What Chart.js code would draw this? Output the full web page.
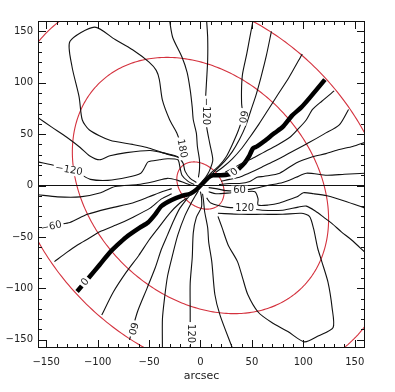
<!DOCTYPE html>
<html>
<head>
<meta charset="utf-8">
<script src="https://cdn.jsdelivr.net/npm/chart.js@4.4.1/dist/chart.umd.min.js"></script>
<style>
  html, body { margin: 0; padding: 0; background: #fff; }
  #c { display: block; }
</style>
</head>
<body>
<canvas id="c" width="395" height="392"></canvas>
<script>
// axis ticks (arcsec)
var xTicks = [-150, -100, -50, 0, 50, 100, 150]
var yTicks = [-150, -100, -50, 0, 50, 100, 150]

// contour lines, [x, y] in arcsec
var zeroLine = [[-120,-103],[-108,-89],[-98,-77],[-88,-65],[-81,-58],[-72,-50],[-59,-41],[-51,-36],[-44,-28],[-38,-20],[-28,-14],[-18,-10],[-10,-8],[-4,-4],[2,2],[8,8],[12,10],[20,10],[28,11],[33,13],[37,16],[43,22],[47,28],[51,36],[55,38],[62,43],[72,51],[80,57],[89,68],[98,76],[106,85],[121,103]]
var lobeA = [[-20,27],[-37,32],[-52,37],[-66,40],[-88,44],[-108,54],[-115,64],[-118,86],[-125,116],[-127,140],[-103,154],[-83,142],[-66,132],[-50,120],[-43,112],[-40,103],[-37,83],[-30,64],[-23,51],[-18,37],[-15,28]]
var lineB = [[-30,160],[-27,144],[-18,125],[-13,110],[-10,93],[-8,76],[-7,64],[-4,51],[-3,38],[-1,25],[-1,15],[-2,8]]
var minus120Top = [[6,160],[7,144],[7,122],[6,103],[5,85],[5,72],[6,57],[9,41],[12,25],[9,15],[5,8],[2,4]]
var sixtyTop = [[51,160],[48,144],[45,128],[41,109],[40,96],[40,80],[41,67],[37,54],[31,40],[25,28],[18,19],[11,13],[6,7]]
var lineTH = [[69,150],[64,126],[59,106],[54,88],[49,73],[44,58],[38,45],[31,33],[23,23],[16,16],[10,10]]
var lineTG = [[99,128],[86,105],[75,88],[66,74],[57,60],[48,47],[40,36],[31,26],[22,18],[15,13]]
var lineC2 = [[130,92],[118,82],[109,74],[103,64],[95,55],[87,47],[74,39],[61,32],[50,26],[41,22],[32,17],[24,13]]
var lineD2 = [[144,74],[135,59],[120,50],[106,42],[93,35],[80,28],[68,22],[58,17],[47,12],[38,8],[28,6],[20,4]]
var lineE2 = [[160,42],[148,38],[135,35],[122,31],[109,28],[93,22],[77,12],[62,9],[55,8],[48,4],[38,2],[28,2],[18,1]]
var sixtyRight = [[160,12],[140,11],[123,10],[103,12],[93,8],[80,3],[65,0],[52,-3],[38,-5],[25,-5],[15,-3],[8,-2]]
var bumpRight = [[8,-6],[15,-8],[30,-7],[44,-6],[53,-6],[56,-13],[56,-19],[66,-19],[77,-17],[88,-13],[94,-11],[100,-7],[110,-8],[123,-10],[140,-15],[160,-22]]
var oneTwentyRight = [[6,-12],[10,-17],[25,-21],[43,-22],[60,-24],[80,-24],[95,-21],[103,-20],[112,-25],[120,-31],[128,-37],[137,-45],[147,-53],[160,-65]]
var lobeB = [[17,-27],[40,-28],[60,-28],[80,-28],[98,-27],[106,-30],[110,-42],[114,-61],[118,-74],[124,-94],[128,-119],[129,-138],[115,-146],[101,-152],[85,-142],[69,-133],[56,-123],[46,-106],[41,-90],[36,-74],[27,-58],[21,-41],[17,-30]]
var lineK = [[31,-158],[19,-126],[14,-106],[11,-74],[8,-55],[7,-41],[4,-25],[3,-15],[2,-8]]
var oneTwentyBot = [[-10,-158],[-10,-144],[-10,-121],[-10,-95],[-8,-70],[-7,-46],[-4,-31],[1,-21],[1,-12],[0,-6]]
var lineI = [[-37,-158],[-37,-130],[-35,-110],[-32,-88],[-27,-67],[-22,-48],[-15,-29],[-9,-17],[-5,-10],[-2,-5]]
var sixtyBot = [[-69,-150],[-66,-139],[-61,-122],[-52,-100],[-44,-80],[-38,-62],[-32,-48],[-26,-34],[-20,-22],[-14,-14],[-9,-8]]
var lineG = [[-96,-126],[-85,-104],[-72,-84],[-60,-68],[-50,-53],[-40,-40],[-30,-27],[-20,-17],[-13,-12]]
var lineF = [[-142,-74],[-130,-65],[-120,-58],[-108,-51],[-98,-45],[-81,-38],[-66,-31],[-49,-22],[-38,-13],[-28,-8]]
var minus60Left = [[-158,-43],[-139,-38],[-127,-36],[-110,-28],[-88,-22],[-66,-17],[-50,-11],[-40,-7],[-28,-3]]
var lineDL = [[-158,-9],[-139,-11],[-117,-11],[-97,-7],[-83,-1],[-61,1],[-45,4],[-32,7],[-22,5],[-14,2],[-8,0]]
var minus120Left = [[-158,23],[-140,19],[-127,14],[-117,11],[-107,6],[-90,5],[-71,8],[-58,12],[-54,18],[-51,23],[-40,25],[-32,26],[-22,25],[-20,18],[-18,10],[-12,4],[-6,1]]
var lineCL = [[-158,66],[-145,57],[-130,47],[-117,37],[-108,29],[-98,25],[-88,29],[-72,32],[-49,34],[-33,31],[-22,28],[-17,22],[-15,14],[-10,7],[-4,3]]
var axisLine = [[-158,0],[160,0]]

var thinLines = [lobeA, lineB, minus120Top, sixtyTop, lineTH, lineTG, lineC2, lineD2, lineE2, sixtyRight, bumpRight, oneTwentyRight, lobeB, lineK, oneTwentyBot, lineI, sixtyBot, lineG, lineF, minus60Left, lineDL, minus120Left, lineCL, axisLine]

// contour level labels: text, x, y, angle (deg)
var labelText = ['180', '\u2212120', '60', '0', '60', '120', '\u2212120', '\u221260', '0', '60', '120']
var labelX = [-18, 5, 41, 33, 38, 43, -128, -145, -112, -66, -10]
var labelY = [36, 72, 67, 13, -5, -22, 15, -40, -94, -139, -144]
var labelAngle = [78, 90, 100, -40, 0, 0, 10, -12, -50, 105, 90]

// red rings (semi axes along NW-SE and NE-SW, arcsec)
var ringA = [26, 140, 211]
var ringB = [19.5, 107, 160]

function pts(arr){
    return arr.map(function(p){ return {x:p[0], y:p[1]} })
}

var datasets = []
thinLines.forEach(function(l){
    datasets.push({data:pts(l), showLine:true, pointRadius:0, borderColor:'#111', borderWidth:1.1, tension:0.25, fill:false})
})
datasets.push({data:pts(zeroLine), showLine:true, pointRadius:0, borderColor:'#000', borderWidth:4.5, tension:0.2, fill:false})

function fmt(v){
    return v < 0 ? '\u2212' + (-v) : '' + v
}

var decor = {
    id:'decor',
    beforeDraw:function(chart){
        var ctx = chart.ctx
        ctx.save()
        ctx.fillStyle = '#fff'
        ctx.fillRect(0, 0, chart.width, chart.height)
        ctx.restore()
    },
    beforeDatasetsDraw:function(chart){
        var ctx = chart.ctx, xs = chart.scales.x, ys = chart.scales.y, a = chart.chartArea
        ctx.save()
        ctx.beginPath()
        ctx.rect(a.left, a.top, a.right - a.left, a.bottom - a.top)
        ctx.clip()
        ctx.strokeStyle = 'rgb(212,50,62)'
        ctx.lineWidth = 1.1
        var r = Math.SQRT1_2
        for (var k = 0; k < ringA.length; k++){
            ctx.beginPath()
            for (var i = 0; i <= 360; i++){
                var t = i / 360 * Math.PI * 2
                var u = ringA[k] * Math.cos(t), w = ringB[k] * Math.sin(t)
                var px = xs.getPixelForValue((u + w) * r)
                var py = ys.getPixelForValue((w - u) * r)
                if (i == 0) ctx.moveTo(px, py); else ctx.lineTo(px, py)
            }
            ctx.stroke()
        }
        ctx.restore()
    },
    afterDatasetsDraw:function(chart){
        var ctx = chart.ctx, xs = chart.scales.x, ys = chart.scales.y
        ctx.save()
        ctx.font = '10px "DejaVu Sans"'
        ctx.textAlign = 'center'
        ctx.textBaseline = 'middle'
        for (var i = 0; i < labelText.length; i++){
            var px = xs.getPixelForValue(labelX[i]), py = ys.getPixelForValue(labelY[i])
            var w = ctx.measureText(labelText[i]).width
            ctx.save()
            ctx.translate(px, py)
            ctx.rotate(labelAngle[i] * Math.PI / 180)
            ctx.fillStyle = '#fff'
            ctx.fillRect(-w/2 - 2, -5, w + 4, 10)
            ctx.fillStyle = '#1e1e1e'
            ctx.fillText(labelText[i], 0, 0)
            ctx.restore()
        }
        ctx.restore()
    },
    afterDraw:function(chart){
        var ctx = chart.ctx, xs = chart.scales.x, ys = chart.scales.y, a = chart.chartArea
        ctx.save()
        ctx.strokeStyle = '#111'
        ctx.lineWidth = 1
        ctx.strokeRect(a.left + 0.5, a.top + 0.5, a.right - a.left - 1, a.bottom - a.top - 1)
        ctx.beginPath()
        for (var v = -150; v <= 150; v += 10){
            var len = (v % 50 == 0) ? 8 : 4
            var px = Math.round(xs.getPixelForValue(v)) + 0.5
            ctx.moveTo(px, a.bottom); ctx.lineTo(px, a.bottom - len)
            ctx.moveTo(px, a.top); ctx.lineTo(px, a.top + len)
            var py = Math.round(ys.getPixelForValue(v)) + 0.5
            ctx.moveTo(a.left, py); ctx.lineTo(a.left + len, py)
            ctx.moveTo(a.right, py); ctx.lineTo(a.right - len, py)
        }
        ctx.stroke()
        ctx.restore()
    }
}

var tickFont = {family:'DejaVu Sans', size:10}

new Chart(document.getElementById('c'), {
    type:'scatter',
    data:{datasets:datasets},
    options:{
        responsive:false,
        animation:false,
        devicePixelRatio:1,
        layout:{padding:{left:0, right:30, top:21, bottom:0}},
        plugins:{legend:{display:false}, tooltip:{enabled:false}},
        scales:{
            x:{
                type:'linear', min:-158, max:160,
                afterBuildTicks:function(s){ s.ticks = xTicks.map(function(v){ return {value:v} }) },
                afterFit:function(s){ s.height = 44 },
                grid:{display:false, drawTicks:false},
                border:{display:false},
                ticks:{padding:8, font:tickFont, color:'#222', autoSkip:false, maxRotation:0, callback:fmt},
                title:{display:true, text:'arcsec', font:{family:'DejaVu Sans', size:11}, color:'#222', padding:{top:0, bottom:9}}
            },
            y:{
                type:'linear', min:-158, max:160,
                afterBuildTicks:function(s){ s.ticks = yTicks.map(function(v){ return {value:v} }) },
                afterFit:function(s){ s.width = 38 },
                grid:{display:false, drawTicks:false},
                border:{display:false},
                ticks:{padding:5, font:tickFont, color:'#222', autoSkip:false, callback:fmt}
            }
        }
    },
    plugins:[decor]
})
</script>
</body>
</html>
